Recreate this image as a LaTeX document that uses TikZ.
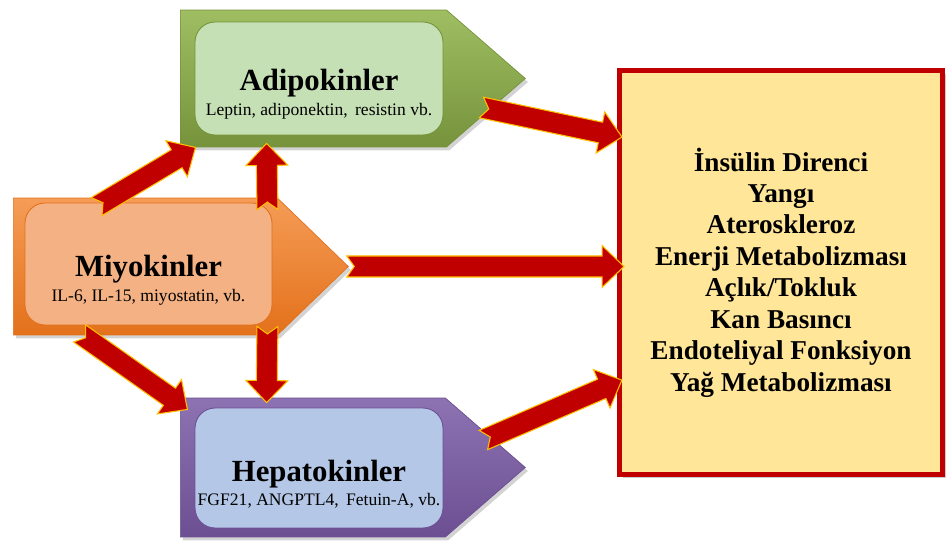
\documentclass[tikz,border=0pt]{standalone}
\usepackage{fontspec}
\setmainfont{Liberation Serif}
\usetikzlibrary{calc,positioning,shapes.symbols,shadows}

\definecolor{arrred}{HTML}{C00000}
\definecolor{arryel}{HTML}{FFC000}
\definecolor{adidark}{HTML}{76933C}
\definecolor{adilight}{HTML}{9FBE62}
\definecolor{adifill}{HTML}{C5E0B4}
\definecolor{miyodark}{HTML}{E3711B}
\definecolor{miyolight}{HTML}{F59C56}
\definecolor{miyofill}{HTML}{F4B183}
\definecolor{hepdark}{HTML}{6B4F92}
\definecolor{heplight}{HTML}{8E73B3}
\definecolor{hepfill}{HTML}{B4C7E7}
\definecolor{efffill}{HTML}{FFE699}

% block arrow with notched tail, from #1 to #2
\newcommand{\fatarrow}[2]{%
  \path[fatarr] let \p1=(#1), \p2=(#2),
      \n1={atan2(\y2-\y1,\x2-\x1)}, \n2={veclen(\x2-\x1,\y2-\y1)} in
    [shift={(\p1)},rotate=\n1]
    (0pt,0.21cm) -- (\n2-0.44cm,0.21cm) -- (\n2-0.44cm,0.42cm) -- (\n2+0pt,0pt)
    -- (\n2-0.44cm,-0.42cm) -- (\n2-0.44cm,-0.21cm) -- (0pt,-0.21cm)
    -- (0.15cm,0pt) -- cycle;}

\begin{document}
\begin{tikzpicture}[x=0.02cm,y=-0.02cm,
    catshape/.style={signal,signal to=east,inner sep=0pt,draw=#1dark,line width=0.4pt,
                     top color=#1light,bottom color=#1dark,anchor=west,
                     minimum width=6.9cm,minimum height=2.74cm,signal pointer angle=82,
                     drop shadow={shadow xshift=1.5pt,shadow yshift=-2pt,opacity=0.35}},
    catbox/.style={draw=#1dark,fill=#1fill,rounded corners=0.4cm,line width=0.5pt,
                   minimum width=4.96cm,minimum height=2.26cm},
    cattext/.style={align=center,font=\fontsize{10}{14}\selectfont},
    effectbox/.style={draw=arrred,fill=efffill,line width=0.1cm,
                      minimum width=6.46cm,minimum height=8.08cm,align=center,
                      font=\fontsize{15.5}{17.9}\selectfont\bfseries,
                      drop shadow={shadow xshift=2pt,shadow yshift=-2pt,opacity=0.4}},
    fatarr/.style={fill=arrred,draw=arryel,line width=0.6pt,line join=miter},
]
\useasboundingbox (0,0) rectangle (947,543);

% ---- Adipokinler ---------------------------------------------------------
\node[catshape=adi] (adiout) at (180,78.5) {};
\node[catbox=adi] (adibox) at (319,78.5) {};
\node[cattext] (aditext) at ($(adibox.center)+(0,16)$)
    {{\fontsize{17.5}{14}\selectfont\bfseries Adipokinler}\\
     Leptin, adiponektin,\, resistin vb.};

% ---- Miyokinler ----------------------------------------------------------
\node[catshape=miyo,minimum width=6.7cm,signal pointer angle=88] (miyoout) at (13,266.5) {};
\node[catbox=miyo,minimum width=4.94cm,minimum height=2.44cm] (miyobox) at (148.5,264) {};
\node[cattext] (miyotext) at ($(miyobox.center)+(0,16)$)
    {{\fontsize{17.5}{14}\selectfont\bfseries Miyokinler}\\
     IL-6, IL-15, miyostatin, vb.};

% ---- Hepatokinler --------------------------------------------------------
\node[catshape=hep,minimum height=2.78cm] (hepout) at (180,467.5) {};
\node[catbox=hep,minimum height=2.4cm] (hepbox) at (319,468) {};
\node[cattext] (heptext) at ($(hepbox.center)+(0,16)$)
    {{\fontsize{17.5}{14}\selectfont\bfseries Hepatokinler}\\
     FGF21, ANGPTL4,\, Fetuin-A, vb.};

% ---- Effects -------------------------------------------------------------
\node[effectbox] (effects) at (781,272.5)
    {İnsülin Direnci\\Yangı\\Ateroskleroz\\Enerji Metabolizması\\
     Açlık/Tokluk\\Kan Basıncı\\Endoteliyal Fonksiyon\\Yağ Metabolizması};

% ---- Arrows --------------------------------------------------------------
\fatarrow{$(miyobox.north west)+(72,4)$}{$(adibox.south west)+(1,12)$}
\fatarrow{$(miyobox.north east)+(-5,7)$}{$(adibox.south west)+(72,8)$}
\fatarrow{$(miyobox.south west)+(55,8)$}{$(hepbox.north west)+(-7,2)$}
\fatarrow{$(miyobox.south east)+(-5,1)$}{$(hepbox.north west)+(72,-5)$}
\fatarrow{$(miyoout.east)+(-2,0)$}{$(effects.west)+(7,-6)$}
\fatarrow{$(adibox.east)+(38,29)$}{$(effects.north west)+(5,69)$}
\fatarrow{$(hepbox.east)+(40,-28)$}{$(effects.north west)+(5,312)$}

\end{tikzpicture}
\end{document}
